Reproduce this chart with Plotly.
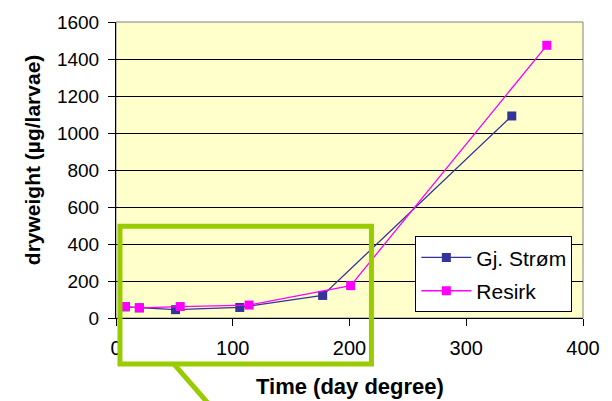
import plotly.graph_objects as go

# Data
gj_x = [8, 20, 51, 106, 177, 339]
gj_y = [60, 55, 45, 57, 122, 1092]
res_x = [8, 20, 55, 114, 201, 369]
res_y = [62, 55, 62, 70, 175, 1474]
series_names = ["Gj. Strøm", "Resirk"]
x_ticks = [0, 100, 200, 300, 400]
y_ticks = [0, 200, 400, 600, 800, 1000, 1200, 1400, 1600]

FONT = "Liberation Sans, Arial, sans-serif"

fig = go.Figure()
fig.add_trace(go.Scatter(
    x=gj_x, y=gj_y, mode="lines+markers", name=series_names[0], legendgroup="a",
    line=dict(color="#333399", width=1.3),
    marker=dict(symbol="square", size=9, color="#333399"),
))
fig.add_trace(go.Scatter(
    x=res_x, y=res_y, mode="lines+markers", name=series_names[1], legendgroup="b",
    line=dict(color="#FF00FF", width=1.3),
    marker=dict(symbol="square", size=9, color="#FF00FF"),
))

fig.update_layout(
    width=612, height=401, autosize=False,
    margin=dict(l=116, r=27, t=15, b=83),
    paper_bgcolor="white", plot_bgcolor="#FFFFCC",
    font=dict(family=FONT, color="black"),
    legend=dict(
        x=0.641, y=0.276, xanchor="left", yanchor="top",
        bgcolor="white", bordercolor="black", borderwidth=1,
        font=dict(size=21, family=FONT, color="black"),
        itemwidth=50, tracegroupgap=3,
    ),
    xaxis=dict(
        range=[0, 400], tickvals=x_ticks, ticks="outside", ticklen=7,
        tickcolor="black", showgrid=False, zeroline=False,
        showline=True, linecolor="black", linewidth=1,
        tickfont=dict(size=20, family=FONT, color="black"),
        ticklabelstandoff=5,
    ),
    yaxis=dict(
        range=[0, 1600], tickvals=y_ticks, ticks="outside", ticklen=7,
        tickcolor="black", showgrid=True, gridcolor="black", gridwidth=1,
        zeroline=False, showline=True, linecolor="black", linewidth=1,
        tickfont=dict(size=19, family=FONT, color="black"),
        ticklabelstandoff=5,
    ),
    showlegend=True,
)

# plot-area border (grey) like Excel
fig.add_shape(type="rect", xref="paper", yref="paper", x0=0, y0=0, x1=1, y1=1,
              line=dict(color="#808080", width=1), layer="below")

# Axis titles
fig.add_annotation(text="<b>Time (day degree)</b>", xref="paper", yref="paper",
                   x=0.5, y=-0.231, xanchor="center", yanchor="middle",
                   showarrow=False, font=dict(size=22, family=FONT, color="black"))
fig.add_annotation(text="<b>dryweight (µg/larvae)</b>", xref="paper", yref="paper",
                   x=-0.18, y=0.533, xanchor="center", yanchor="middle", textangle=-90,
                   showarrow=False, font=dict(size=21, family=FONT, color="black"))

# Green highlight box and pointer line
fig.add_shape(type="rect", xref="paper", yref="paper",
              x0=0.0085, y0=-0.155, x1=0.547, y1=0.310,
              line=dict(color="#99CC00", width=5), fillcolor="rgba(0,0,0,0)", layer="above")
fig.add_shape(type="line", xref="paper", yref="paper",
              x0=0.1237, y0=-0.155, x1=0.1983, y1=-0.290,
              line=dict(color="#99CC00", width=5), layer="above")

fig.write_html(
    "out.html",
    config={"displayModeBar": False},
    post_script="document.body.style.margin='0';document.body.style.overflow='hidden';",
)
